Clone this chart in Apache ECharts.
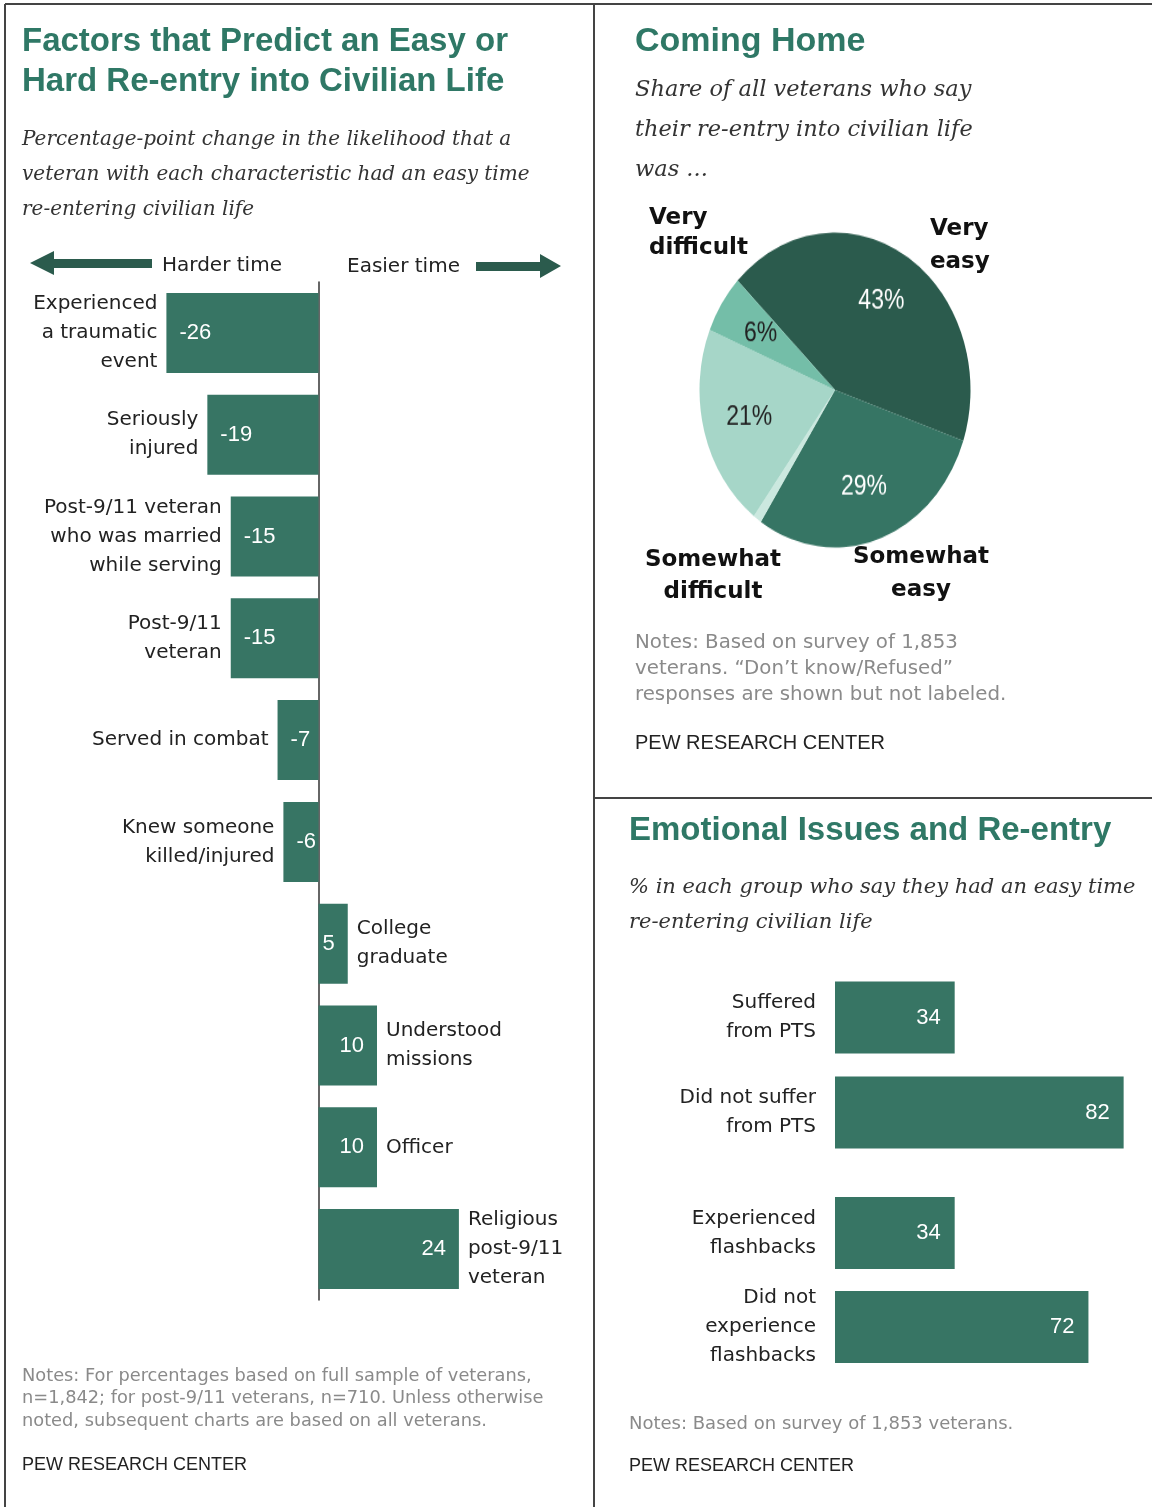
<!DOCTYPE html>
<html>
<head>
<meta charset="utf-8">
<script src="https://cdn.jsdelivr.net/npm/echarts@6/dist/echarts.min.js"></script>
<style>
  html, body { margin: 0; padding: 0; background: #fff; }
  #main { position: absolute; left: 0; top: 0; width: 1152px; height: 1507px; }
  #pie { position: absolute; left: 685px; top: 240px; width: 300px; height: 300px;
         transform: scaleY(1.162); transform-origin: 50% 50%; }
</style>
</head>
<body>
<div id="main"></div>
<div id="pie"></div>
<script>
// 左图：各特征对重返平民生活难易的影响（百分点）
const factorNames = [
  'Experienced\na traumatic\nevent',
  'Seriously\ninjured',
  'Post-9/11 veteran\nwho was married\nwhile serving',
  'Post-9/11\nveteran',
  'Served in combat',
  'Knew someone\nkilled/injured',
  'College\ngraduate',
  'Understood\nmissions',
  'Officer',
  'Religious\npost-9/11\nveteran'
];
const factorValues = [-26, -19, -15, -15, -7, -6, 5, 10, 10, 24];

// 右上：饼图
const pieNames = ['Very easy', 'Somewhat easy', "Don't know/Refused", 'Somewhat difficult', 'Very difficult'];
const pieValues = [43, 29, 1, 21, 6];
const pieColors = ['#2b5b4d', '#367564', '#cbe8df', '#a6d6c8', '#74bea8'];
const pieLabelColors = ['#fff', '#fff', '#fff', '#222', '#222'];

// 右下：情绪问题
const ptsNames = ['Suffered\nfrom PTS', 'Did not suffer\nfrom PTS'];
const ptsValues = [34, 82];
const flashNames = ['Experienced\nflashbacks', 'Did not\nexperience\nflashbacks'];
const flashValues = [34, 72];

const SANS = "'Liberation Sans', Arial, sans-serif";
const WIDE = "'DejaVu Sans', Verdana, sans-serif";
const SERIF = "'DejaVu Serif', Georgia, serif";
const TEAL = '#2f7866';
const BAR = '#377564';
const DARK_ARROW = '#2b5b4d';

function txt(x, y, text, opts) {
  opts = opts || {};
  return {
    type: 'text', x: x, y: y, silent: true,
    style: {
      text: text,
      fontSize: opts.size || 20,
      fontFamily: opts.family || SANS,
      fontWeight: opts.weight || 'normal',
      fontStyle: opts.style || 'normal',
      fill: opts.color || '#222',
      lineHeight: opts.lh || (opts.size || 20) * 1.3,
      align: opts.align || 'left',
      verticalAlign: 'top'
    }
  };
}

function line(x1, y1, x2, y2, color, w) {
  return { type: 'line', silent: true, shape: { x1, y1, x2, y2 }, style: { stroke: color || '#444', lineWidth: w || 2 } };
}

const graphics = [
  // 边框与分隔线
  line(5, 4, 1152, 4, '#444', 2),
  line(5, 4, 5, 1507, '#444', 2),
  line(594, 4, 594, 1507, '#444', 2),
  line(594, 798, 1152, 798, '#444', 2),

  // 左图标题
  txt(22, 22, 'Factors that Predict an Easy or\nHard Re-entry into Civilian Life', { size: 33, weight: 'bold', color: TEAL, lh: 40 }),
  txt(22, 122, 'Percentage-point change in the likelihood that a\nveteran with each characteristic had an easy time\nre-entering civilian life',
    { size: 20, family: SERIF, style: 'italic', color: '#333', lh: 35 }),

  // 箭头
  { type: 'polygon', silent: true, shape: { points: [[30, 263], [54, 251], [54, 259], [152, 259], [152, 268], [54, 268], [54, 275]] }, style: { fill: DARK_ARROW } },
  { type: 'polygon', silent: true, shape: { points: [[561, 266], [540, 254], [540, 262], [476, 262], [476, 271], [540, 271], [540, 278]] }, style: { fill: DARK_ARROW } },
  txt(162, 253, 'Harder time', { size: 20, family: WIDE }),
  txt(347, 254, 'Easier time', { size: 20, family: WIDE }),

  // 左图注释
  txt(22, 1365, 'Notes: For percentages based on full sample of veterans,\nn=1,842; for post-9/11 veterans, n=710. Unless otherwise\nnoted, subsequent charts are based on all veterans.',
    { size: 17.8, family: WIDE, color: '#8a8a8a', lh: 22.5 }),
  txt(22, 1453, 'PEW RESEARCH CENTER', { size: 18 }),

  // 右上标题
  txt(635, 22, 'Coming Home', { size: 34, weight: 'bold', color: TEAL, lh: 40 }),
  txt(635, 70, 'Share of all veterans who say\ntheir re-entry into civilian life\nwas ...',
    { size: 22.5, family: SERIF, style: 'italic', color: '#333', lh: 40 }),

  // 饼图外部标签
  txt(649, 203, 'Very\ndifficult', { size: 23, weight: 'bold', family: WIDE, color: '#111', lh: 30 }),
  txt(930, 213, 'Very\neasy', { size: 23, weight: 'bold', family: WIDE, color: '#111', lh: 33 }),
  txt(713, 544, 'Somewhat\ndifficult', { size: 23, weight: 'bold', family: WIDE, color: '#111', lh: 32, align: 'center' }),
  txt(921, 541, 'Somewhat\neasy', { size: 23, weight: 'bold', family: WIDE, color: '#111', lh: 33, align: 'center' }),

  txt(635, 630, 'Notes: Based on survey of 1,853\nveterans. \u201CDon\u2019t know/Refused\u201D\nresponses are shown but not labeled.',
    { size: 19.8, family: WIDE, color: '#8a8a8a', lh: 26 }),
  txt(635, 730, 'PEW RESEARCH CENTER', { size: 20 }),

  // 右下标题
  txt(629, 811, 'Emotional Issues and Re-entry', { size: 33, weight: 'bold', color: TEAL, lh: 40 }),
  txt(629, 870, '% in each group who say they had an easy time\nre-entering civilian life',
    { size: 21, family: SERIF, style: 'italic', color: '#333', lh: 35 }),
  txt(629, 1413, 'Notes: Based on survey of 1,853 veterans.', { size: 18, family: WIDE, color: '#8a8a8a' }),
  txt(629, 1454, 'PEW RESEARCH CENTER', { size: 18 })
];

const valueLabel = {
  show: true, formatter: '{c}', color: '#fff', fontSize: 22, fontFamily: SANS
};
const nameLabel = { fontSize: 20, lineHeight: 29, color: '#222', fontFamily: WIDE };

const main = echarts.init(document.getElementById('main'));
main.setOption({
  animation: false,
  graphic: graphics,
  grid: [
    { left: 143, top: 282, width: 351, height: 1018 },
    { left: 835, top: 970, width: 316.8, height: 190 },
    { left: 835, top: 1186, width: 316.8, height: 188 }
  ],
  xAxis: [
    { gridIndex: 0, type: 'value', min: -30, max: 30, axisLine: { show: false }, axisTick: { show: false }, axisLabel: { show: false }, splitLine: { show: false } },
    { gridIndex: 1, type: 'value', min: 0, max: 90, show: false },
    { gridIndex: 2, type: 'value', min: 0, max: 90, show: false }
  ],
  yAxis: [
    { gridIndex: 0, type: 'category', inverse: true, data: factorNames,
      axisLine: { onZero: true, lineStyle: { color: '#333', width: 1.5 } },
      axisTick: { show: false }, axisLabel: { show: false } },
    { gridIndex: 1, type: 'category', inverse: true, data: ptsNames,
      axisLine: { show: false }, axisTick: { show: false },
      axisLabel: Object.assign({ margin: 19 }, nameLabel) },
    { gridIndex: 2, type: 'category', inverse: true, data: flashNames,
      axisLine: { show: false }, axisTick: { show: false },
      axisLabel: Object.assign({ margin: 19 }, nameLabel) }
  ],
  series: [
    {
      type: 'bar', xAxisIndex: 0, yAxisIndex: 0, barWidth: 80, silent: true,
      itemStyle: { color: BAR },
      label: Object.assign({}, valueLabel, { distance: 13 }),
      data: factorValues.map(v => ({ value: v, label: { position: v < 0 ? 'insideLeft' : 'insideRight' } }))
    },
    {
      // 类别名称标签（透明覆盖层）
      type: 'bar', xAxisIndex: 0, yAxisIndex: 0, barWidth: 80, barGap: '-100%', silent: true,
      itemStyle: { color: 'rgba(0,0,0,0)' },
      label: Object.assign({
        show: true, distance: 9,
        formatter: p => factorNames[p.dataIndex]
      }, nameLabel),
      data: factorValues.map(v => ({ value: v, label: { position: v < 0 ? 'left' : 'right' } }))
    },
    {
      type: 'bar', xAxisIndex: 1, yAxisIndex: 1, barWidth: 72, silent: true,
      itemStyle: { color: BAR },
      label: Object.assign({}, valueLabel, { position: 'insideRight', distance: 14 }),
      data: ptsValues
    },
    {
      type: 'bar', xAxisIndex: 2, yAxisIndex: 2, barWidth: 72, silent: true,
      itemStyle: { color: BAR },
      label: Object.assign({}, valueLabel, { position: 'insideRight', distance: 14 }),
      data: flashValues
    }
  ]
});

// 饼图（容器纵向拉伸成椭圆）
const pie = echarts.init(document.getElementById('pie'));
pie.setOption({
  animation: false,
  series: [
    {
      type: 'pie', radius: 135.5, center: ['50%', '50%'], startAngle: 136, clockwise: true,
      silent: true, label: { show: false }, labelLine: { show: false },
      data: pieNames.map((n, i) => ({ name: n, value: pieValues[i], itemStyle: { color: pieColors[i] } }))
    },
    {
      // 百分比标签层
      type: 'pie', radius: 172, center: ['50%', '50%'], startAngle: 136, clockwise: true,
      silent: true, labelLine: { show: false },
      itemStyle: { color: 'rgba(0,0,0,0)' },
      label: {
        show: true, position: 'inside', fontSize: 23, fontFamily: SANS,
        formatter: p => p.dataIndex === 2 ? '' : p.value + '%'
      },
      data: pieNames.map((n, i) => ({ name: n, value: pieValues[i], label: { color: pieLabelColors[i] } }))
    }
  ]
});
</script>
</body>
</html>
